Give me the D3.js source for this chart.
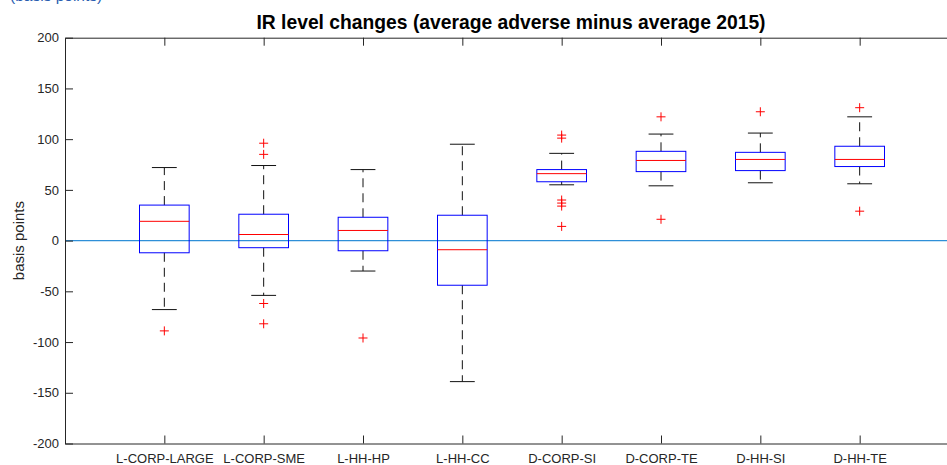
<!DOCTYPE html>
<html>
<head>
<meta charset="utf-8">
<script src="https://cdn.jsdelivr.net/npm/d3@7"></script>
<style>
  html, body { margin: 0; padding: 0; background: #fff; overflow: hidden; }
  svg { display: block; font-family: "Liberation Sans", Arial, sans-serif; }
</style>
</head>
<body>
<svg id="chart" width="947" height="465"></svg>
<script>
const categories = ["L-CORP-LARGE", "L-CORP-SME", "L-HH-HP", "L-HH-CC", "D-CORP-SI", "D-CORP-TE", "D-HH-SI", "D-HH-TE"];
const lowerWhisker = [-68, -54, -30, -139, 55, 54, 57, 56];
const q1Values     = [-12, -7, -10, -44, 58, 68, 69, 73];
const medianValues = [19, 6, 10, -9, 66, 79, 80, 80];
const q3Values     = [35, 26, 23, 25, 70, 88, 87, 93];
const upperWhisker = [72, 74, 70, 95, 86, 105, 106, 122];
const outlierValues = [[-89], [96, 85, -62, -82], [-96], [], [104, 101, 40, 37, 34, 14], [122, 21], [127], [131, 29]];
const yTicks = [-200, -150, -100, -50, 0, 50, 100, 150, 200];
const titleText = "IR level changes (average adverse minus average 2015)";
const yLabel = "basis points";

(function () {
const svg = d3.select("#chart");
const mLeft = 65, mRight = 959, mTop = 37.7, mBottom = 443.5;

const x = d3.scaleLinear().domain([0, categories.length + 1]).range([mLeft, mRight]);
const y = d3.scaleLinear().domain([-200, 200]).range([mBottom, mTop]);

const axisColor = "#262626";

// cropped blue text at top-left (as in the reference, clipped by the top edge)
svg.append("text").attr("x", 10).attr("y", 1)
  .attr("font-size", 15.5).attr("fill", "#2a5db0").text("(basis points)");

// title
svg.append("text").attr("x", (mLeft + mRight) / 2 - 1).attr("y", 29)
  .attr("text-anchor", "middle").attr("font-size", 19.3).attr("font-weight", "bold")
  .attr("fill", "#000").text(titleText);

// zero line
svg.append("line").attr("x1", mLeft).attr("x2", mRight)
  .attr("y1", y(0)).attr("y2", y(0))
  .attr("stroke", "#2e8fd8").attr("stroke-width", 1.2);

// axes
const yAxisL = d3.axisLeft(y).tickValues(yTicks).tickFormat(d => String(d))
  .tickSizeInner(-8).tickSizeOuter(0).tickPadding(6);
const gy = svg.append("g").attr("transform", `translate(${mLeft},0)`).call(yAxisL);
gy.selectAll("text").attr("font-size", 13).attr("fill", axisColor).attr("font-family", "Liberation Sans, Arial, sans-serif");
gy.selectAll("line").attr("stroke", axisColor);
gy.select(".domain").attr("stroke", axisColor);

const yAxisR = d3.axisRight(y).tickValues(yTicks).tickSizeInner(-8).tickSizeOuter(0).tickFormat("");
const gyr = svg.append("g").attr("transform", `translate(${mRight},0)`).call(yAxisR);
gyr.selectAll("line").attr("stroke", axisColor);
gyr.select(".domain").attr("stroke", axisColor);

const xPos = categories.map((c, i) => i + 1);
const xAxisB = d3.axisBottom(x).tickValues(xPos).tickFormat((d, i) => categories[i]).tickSizeInner(-8).tickSizeOuter(0).tickPadding(10);
const gx = svg.append("g").attr("transform", `translate(0,${mBottom})`).call(xAxisB);
gx.selectAll("text").attr("font-size", 13).attr("fill", axisColor).attr("font-family", "Liberation Sans, Arial, sans-serif");
gx.selectAll("line").attr("stroke", axisColor);
gx.select(".domain").attr("stroke", axisColor);

const xAxisT = d3.axisTop(x).tickValues(xPos).tickFormat("").tickSizeInner(-8).tickSizeOuter(0);
const gxt = svg.append("g").attr("transform", `translate(0,${mTop})`).call(xAxisT);
gxt.selectAll("line").attr("stroke", axisColor);
gxt.select(".domain").attr("stroke", axisColor);

// boxes
const unit = x(1) - x(0);
const boxHalf = unit * 0.25;
const capHalf = unit * 0.125;

const g = svg.append("g");
categories.forEach((c, i) => {
  const cx = x(i + 1);
  g.append("line").attr("x1", cx).attr("x2", cx).attr("y1", y(q3Values[i])).attr("y2", y(upperWhisker[i]))
    .attr("stroke", "#111").attr("stroke-dasharray", "9,6").attr("stroke-width", 1);
  g.append("line").attr("x1", cx).attr("x2", cx).attr("y1", y(q1Values[i])).attr("y2", y(lowerWhisker[i]))
    .attr("stroke", "#111").attr("stroke-dasharray", "9,6").attr("stroke-width", 1);
  [upperWhisker[i], lowerWhisker[i]].forEach(v => {
    g.append("line").attr("x1", cx - capHalf).attr("x2", cx + capHalf).attr("y1", y(v)).attr("y2", y(v))
      .attr("stroke", "#111").attr("stroke-width", 1);
  });
  g.append("rect").attr("x", cx - boxHalf).attr("width", 2 * boxHalf)
    .attr("y", y(q3Values[i])).attr("height", y(q1Values[i]) - y(q3Values[i]))
    .attr("fill", "none").attr("stroke", "#0000ff").attr("stroke-width", 1);
  g.append("line").attr("x1", cx - boxHalf).attr("x2", cx + boxHalf)
    .attr("y1", y(medianValues[i])).attr("y2", y(medianValues[i]))
    .attr("stroke", "#ff0000").attr("stroke-width", 1);
  outlierValues[i].forEach(v => {
    const py = y(v), s = 4.5;
    g.append("path").attr("d", `M${cx - s},${py}H${cx + s}M${cx},${py - s}V${py + s}`)
      .attr("stroke", "#ff0000").attr("stroke-width", 1).attr("fill", "none");
  });
});

// y label
svg.append("text").attr("transform", `translate(23.5,${y(0)}) rotate(-90)`)
  .attr("text-anchor", "middle").attr("font-size", 15).attr("fill", axisColor).text(yLabel);
})();
</script>
</body>
</html>
